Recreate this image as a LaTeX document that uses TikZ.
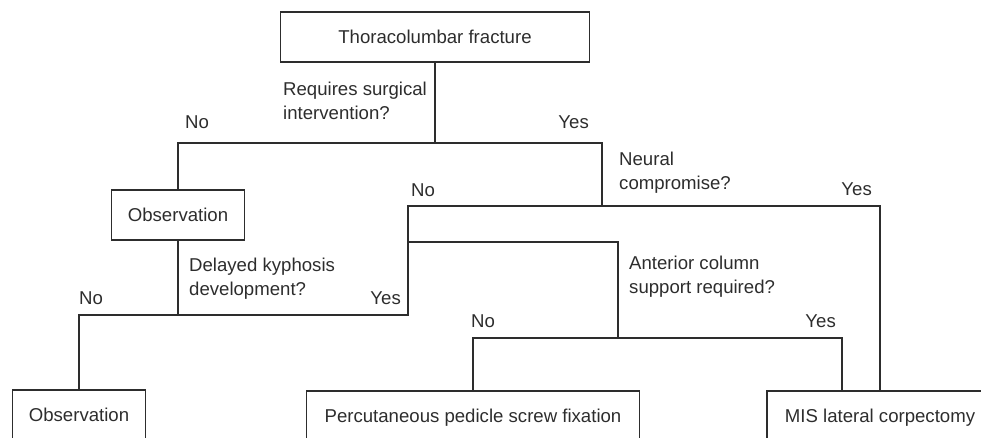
\documentclass[tikz,border=0pt]{standalone}
\usepackage{fontspec}
\setmainfont{Liberation Sans}
\definecolor{ink}{RGB}{45,45,45}
\newcommand\figfont{\fontsize{18.6}{24}\selectfont}
\begin{document}
\begin{tikzpicture}[x=1pt,y=-1pt,
  box/.style={draw=ink,line width=1.3pt,inner sep=0pt,font=\figfont,text=ink,
    text height=13.4pt,text depth=0pt,minimum height=50pt},
  lbl/.style={inner sep=0pt,font=\figfont,text=ink,text height=13.4pt,text depth=0pt},
  lblw/.style={lbl,anchor=west},
  lble/.style={lbl,anchor=east},
  wire/.style={draw=ink,line width=1.3pt,line cap=rect}]
\useasboundingbox (0,0) rectangle (981,438);
\clip (0,0) rectangle (981,438);

% boxes
\node[box,minimum width=309pt] (top) at (435,37) {Thoracolumbar fracture};
\node[box,minimum width=133pt] (obs1) at (178,215) {Observation};
\node[box,minimum width=133pt] (obs2) at (79,415) {Observation};
\node[box,minimum width=333pt] (perc) at (473,416) {Percutaneous pedicle screw fixation};
\node[box,minimum width=226pt] (mis) at (880,416) {MIS lateral corpectomy};

% junction coordinates
\coordinate (j1) at (602,143);
\coordinate (j2) at (408,315);
\coordinate (j3) at (408,206);
\coordinate (j4) at (408,242);
\coordinate (j5) at (618,338);
\coordinate (j6) at (842,338);

% connectors
\draw[wire] (top.south) -- (top.south |- j1);
\draw[wire] (obs1.north) |- (j1) -- (j1 |- j3);
\draw[wire] (obs2.north) |- (j2) -- (j3) -| (mis.north);
\draw[wire] (obs1.south) -- (obs1.south |- j2);
\draw[wire] (j4) -| (j5);
\draw[wire] (perc.north) |- (j6) -- (j6 |- mis.north);

% question labels
\node[lblw] (q1a) at (283,89) {Requires surgical};
\node[lblw] (q1b) at (283,112.5) {intervention?};
\node[lblw] (q2a) at (619,159) {Neural};
\node[lblw] (q2b) at (619,183) {compromise?};
\node[lblw] (q3a) at (189,265) {Delayed kyphosis};
\node[lblw] (q3b) at (189,289) {development?};
\node[lblw] (q4a) at (629,263) {Anterior column};
\node[lblw] (q4b) at (629,287) {support required?};

% yes/no labels
\node[lblw] (n1) at (185,122) {No};
\node[lble] (y1) at (589,122) {Yes};
\node[lblw] (n2) at (411,190) {No};
\node[lble] (y2) at (872,189) {Yes};
\node[lblw] (n3) at (79,298) {No};
\node[lble] (y3) at (401,298) {Yes};
\node[lblw] (n4) at (471,321) {No};
\node[lble] (y4) at (836,321) {Yes};
\end{tikzpicture}
\end{document}
